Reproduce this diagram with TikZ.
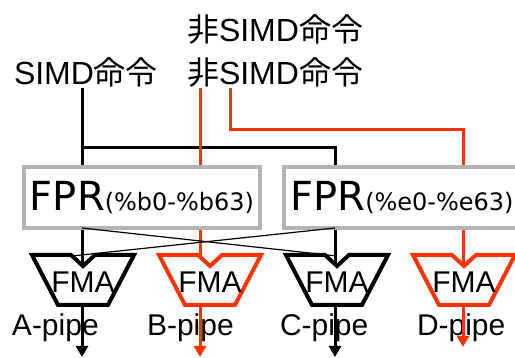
\documentclass[tikz,border=0pt]{standalone}
\usepackage{fontspec}
\setmainfont{Liberation Sans}
\newfontfamily\cjk{Noto Sans CJK JP}
\newfontfamily\fprfont{DejaVu Sans}
\usepackage{xcolor}
\usetikzlibrary{arrows.meta,backgrounds}
\definecolor{pipered}{HTML}{FF3300}
\definecolor{reggray}{HTML}{B4B4B4}

\begin{document}
\begin{tikzpicture}[x=1pt, y=-1pt,
  every node/.style={inner sep=0pt, outer sep=0pt},
  lbl/.style={font=\fontsize{32}{36}\selectfont, anchor=base west},
  pipe/.style={font=\fontsize{30}{34}\selectfont, anchor=base west},
  reg/.style={draw=reggray, line width=4.5pt, fill=white,
              minimum width=236pt, minimum height=61pt},
  unit/.style={line width=4pt, line join=miter, fill=white},
  wire/.style={line width=3pt, line join=miter},
  xwire/.style={line width=1.2pt},
  outarr/.style={line width=3pt, -{Triangle[length=11pt,width=12pt]}},
]
\useasboundingbox (0,0) rectangle (515,358);

%% ── Instruction labels ───────────────────────────────────────────────────
\node[lbl] (simd) at (14,85)  {SIMD{\cjk 命令}};
\node[lbl] (nsA)  at (187,42) {{\cjk 非}SIMD{\cjk 命令}};
\node[lbl] (nsB)  at (187,85) {{\cjk 非}SIMD{\cjk 命令}};

%% ── Register files ───────────────────────────────────────────────────────
\node[reg] (fprB) at (142,197.5)
  {{\fprfont\fontsize{40}{40}\selectfont FPR}{\fprfont\fontsize{24}{24}\selectfont (\%b0-\%b63)}};
\node[reg] (fprE) at (402,197.5)
  {{\fprfont\fontsize{40}{40}\selectfont FPR}{\fprfont\fontsize{24}{24}\selectfont (\%e0-\%e63)}};

%% ── Pipe entry / exit points ─────────────────────────────────────────────
\foreach \n/\wx/\ey in {A/82/357, B/200/357, C/335/357, D/463/347} {
  \coordinate (in\n)  at (\wx,268);
  \coordinate (out\n) at (\wx,305);
  \coordinate (end\n) at (\wx,\ey);
}
\coordinate (fork)  at (82,148);
\coordinate (turnD) at (230,130);
\coordinate (crossA) at (72,256);
\coordinate (crossC) at (337,256);

%% Wires into the pipes (behind the register boxes)
\begin{scope}[on background layer]
  \draw[wire] (simd.south -| inA) -- (inA);
  \draw[wire] (fork) -| (inC);
  \draw[wire, pipered] (nsB.south -| inB) -- (inB);
  \draw[wire, pipered] (nsB.south -| turnD) -- (turnD) -| (inD);
\end{scope}

%% Crossed operand paths
\draw[xwire] (fprB.south -| inA) -- (crossC);
\draw[xwire] (fprE.south -| inC) -- (crossA);

%% ── FMA units ────────────────────────────────────────────────────────────
\foreach \n/\cx/\col in {A/83/black, B/210/pipered, C/337/black, D/464/pipered} {
  \draw[unit, draw=\col]
    (\cx-51,255) -- (\cx-12,255) -- (\cx,266) -- (\cx+12,255)
    -- (\cx+51,255) -- (\cx+25,305) -- (\cx-25,305) -- cycle;
  \node[font=\fontsize{30}{34}\selectfont, anchor=base] (fma\n) at (\cx,293) {FMA};
}

%% ── Pipe names and outputs ───────────────────────────────────────────────
\node[pipe] (pipeA) at (12,336)  {A-pipe};
\node[pipe] (pipeB) at (147,336) {B-pipe};
\node[pipe] (pipeC) at (280,336) {C-pipe};
\node[pipe] (pipeD) at (417,336) {D-pipe};

\draw[outarr] (outA) -- (endA);
\draw[outarr, pipered] (outB) -- (endB);
\draw[outarr] (outC) -- (endC);
\draw[outarr, pipered] (outD) -- (endD);

\end{tikzpicture}
\end{document}
